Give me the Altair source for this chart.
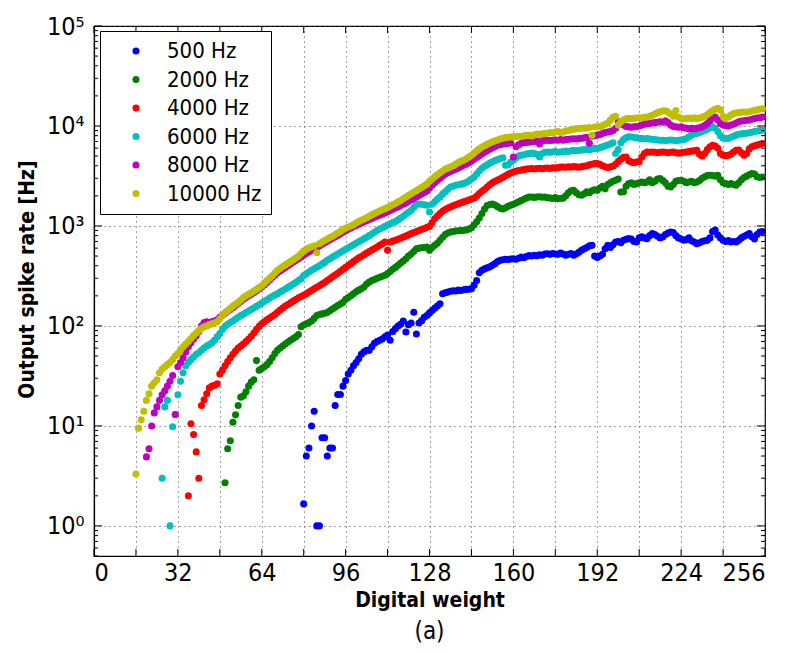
import altair as alt
import pandas as pd

SERIES = ["500 Hz", "2000 Hz", "4000 Hz", "6000 Hz", "8000 Hz", "10000 Hz"]
COLORS = ["#0000ff", "#008000", "#ff0000", "#00bfbf", "#bf00bf", "#bfbf00"]

# first digital weight of each series, then one rate per consecutive weight
START_500 = 80
RATE_500 = [
    1.66, 5, 6, 10, 14, 1, 1, 7.6, 7.6, 5,
    6, 6, 16, 20.6, 20.6, 25, 28.5, 33, 36, 40,
    43, 47, 52, 55, 57, 57, 62, 67, 70, 72,
    74, 78, 81, 72, 88, 94, 100, 104, 112, 87,
    103, 107, 137, 83, 107, 113, 122, 127, 135, 143,
    150, 158, 167, 210, 215, 218, 222, 225, 224, 228,
    226, 230, 232, 233, 236, 255, 285, 340, 360, 372,
    382, 390, 405, 420, 440, 453, 460, 465, 462, 468,
    470, 465, 475, 490, 480, 495, 505, 500, 510, 505,
    515, 510, 525, 528, 520, 530, 525, 520, 535, 525,
    510, 520, 530, 510, 525, 545, 570, 590, 610, 635,
    640, 500, 485, 500, 520, 590, 640, 610, 650, 690,
    700, 680, 720, 735, 747, 740, 700, 690, 760, 780,
    760, 747, 800, 838, 820, 790, 760, 776, 820, 850,
    870, 860, 800, 760, 740, 720, 730, 760, 710, 690,
    665, 680, 700, 710, 718, 760, 880, 910, 810, 760,
    720, 700, 715, 690, 700, 690, 720, 760, 790, 810,
    838, 780, 740, 820, 870, 880,
]

START_2000 = 50
RATE_2000 = [
    2.7, 5.9, 7.1, 10.9, 12.9, 16, 19.4, 20, 22, 25,
    27.4, 29, 45, 36, 37.5, 39, 41, 44, 48, 53,
    57, 60, 63, 66, 69, 72, 75, 78, 82, 98,
    102, 105, 108, 112, 119, 127, 130, 132, 134, 136,
    142, 148, 154, 160, 166, 172, 185, 192, 200, 210,
    220, 228, 235, 245, 262, 275, 285, 292, 300, 307,
    314, 322, 335, 350, 368, 385, 405, 425, 445, 470,
    500, 525, 555, 590, 600, 605, 610, 615, 570, 610,
    640, 670, 720, 770, 820, 850, 870, 880, 890, 895,
    900, 904, 910, 930, 960, 1020, 1100, 1200, 1330, 1480,
    1600, 1640, 1660, 1620, 1560, 1500, 1480, 1520, 1570, 1610,
    1650, 1700, 1750, 1800, 1850, 1900, 1950, 1950, 1930, 1950,
    1960, 1940, 1950, 1920, 1900, 1880, 1920, 1870, 1880, 1900,
    2000, 2150, 2250, 2270, 2150, 2050, 2030, 2100, 2200, 2150,
    2250, 2300, 2270, 2400, 2500, 2350, 2600, 2700, 2800, 2860,
    2950, 2180, 2200, 2500, 2650, 2700, 2600, 2650, 2700, 2750,
    2700, 2750, 2900, 2700, 2800, 2950, 2980, 2850, 2700, 2500,
    2450, 2600, 2800, 2850, 2860, 2800, 2700, 2750, 2800, 2700,
    2750, 2850, 3000, 3100, 3200, 3210, 3200, 3150, 3220, 2900,
    2700, 2650, 2600, 2650, 2600, 2550, 2700, 2900, 3050, 3150,
    3250, 3340, 3300, 3100, 3050, 3090,
]

START_4000 = 36
RATE_4000 = [
    2.0, 10.5, 8.2, 5.5, 3.0, 16, 18.3, 21, 24, 25,
    25.5, 26.4, 33, 36, 40, 44, 48, 52, 56, 60,
    63, 66, 70, 74, 79, 85, 92, 99, 105, 110,
    115, 120, 125, 130, 137, 144, 151, 158, 164, 170,
    177, 184, 191, 197, 203, 210, 218, 226, 235, 244,
    252, 262, 272, 284, 296, 310, 323, 337, 352, 368,
    385, 402, 420, 440, 460, 480, 495, 515, 535, 555,
    575, 595, 615, 640, 665, 690, 570, 690, 705, 720,
    735, 755, 775, 795, 815, 838, 860, 880, 900, 920,
    945, 970, 990, 1080, 1180, 1260, 1330, 1400, 1460, 1510,
    1550, 1590, 1630, 1670, 1710, 1740, 1780, 1820, 1860, 1890,
    1990, 2110, 2220, 2320, 2450, 2580, 2700, 2800, 2880, 2960,
    3060, 3180, 3280, 3380, 3460, 3530, 3580, 3620, 3660, 3700,
    3740, 3760, 3720, 3760, 3780, 3740, 3780, 3800, 3760, 3820,
    3800, 3850, 3880, 3890, 3860, 3900, 3880, 3920, 3900, 3870,
    3920, 3950, 4000, 4100, 4150, 4200, 4200, 4150, 4000, 3900,
    3850, 3900, 3950, 4150, 4400, 4650, 4850, 4900, 4500, 4350,
    4300, 4360, 4400, 4900, 5300, 5500, 5450, 5500, 5450, 5400,
    5450, 5500, 5450, 5400, 5450, 5500, 5400, 5350, 5400, 5450,
    5500, 5550, 5600, 5650, 5700, 5200, 5000, 5300, 5800, 6200,
    6400, 6300, 6000, 5300, 5100, 5050, 5100, 5200, 5500, 5700,
    5750, 5400, 5100, 5300, 5900, 6200, 6350, 6450, 6550, 6670,
]

START_6000 = 26
RATE_6000 = [
    3.0, 15.5, 18, 1.0, 9.8, 13, 20.5, 28, 34, 40,
    43, 46, 49, 52, 54, 57, 60, 63, 65, 68,
    72, 78, 84, 92, 99, 104, 108, 112, 117, 122,
    127, 131, 136, 141, 146, 151, 157, 163, 169, 176,
    183, 190, 197, 204, 210, 218, 226, 234, 243, 252,
    262, 272, 285, 296, 320, 333, 347, 360, 373, 387,
    400, 415, 432, 453, 470, 488, 505, 523, 542, 565,
    585, 605, 627, 650, 672, 695, 718, 745, 772, 800,
    830, 865, 900, 930, 960, 990, 1020, 1050, 1080, 1110,
    1150, 1200, 1250, 1310, 1370, 1430, 1530, 1640, 1660, 1650,
    1630, 1610, 1380, 1650, 1750, 1850, 1950, 2080, 2200, 2330,
    2450, 2500, 2550, 2580, 2620, 2650, 2720, 2820, 2950, 3090,
    3300, 3550, 3780, 3950, 4100, 4250, 4380, 4500, 4620, 4720,
    4800, 4040, 4100, 4350, 4540, 4800, 5000, 5100, 5150, 5250,
    5300, 5350, 5300, 5200, 4900, 5300, 5450, 5500, 5450, 5500,
    5550, 5450, 5500, 5550, 5600, 5550, 5650, 5700, 5650, 5700,
    5750, 5800, 5850, 5800, 5900, 5950, 5950, 6050, 6200, 6350,
    6450, 6600, 6800, 5300, 5800, 6800, 7300, 7600, 7800, 7750,
    7700, 7600, 7550, 7500, 7450, 7480, 7400, 7350, 7300, 7250,
    7200, 7200, 7150, 7200, 7250, 7200, 7150, 7200, 7250, 7300,
    7500, 7800, 8100, 8300, 8400, 8600, 8800, 9000, 9300, 9600,
    9800, 9500, 8800, 8000, 7600, 7480, 7500, 7700, 7900, 8100,
    8250, 8350, 8400, 8450, 8550, 8650, 8800, 8900, 9000, 9060,
]

START_8000 = 20
RATE_8000 = [
    4.9, 5.9, 10, 13.5, 15.5, 18, 20.5, 22.5, 25, 28,
    32, 13, 39, 43, 48, 55, 62, 68, 74, 80,
    88, 100, 108, 110, 108, 110, 112, 115, 122, 128,
    134, 140, 146, 152, 160, 168, 176, 185, 193, 200,
    208, 216, 225, 235, 245, 258, 272, 288, 305, 322,
    340, 355, 370, 385, 400, 418, 435, 452, 470, 490,
    510, 530, 550, 570, 590, 610, 630, 655, 680, 705,
    730, 755, 780, 805, 835, 865, 895, 925, 955, 985,
    1010, 1040, 1070, 1100, 1130, 1160, 1190, 1220, 1250, 1280,
    1310, 1350, 1390, 1430, 1470, 1510, 1550, 1600, 1650, 1700,
    1760, 1820, 1880, 1950, 2020, 2090, 2160, 2240, 2400, 2550,
    2700, 2850, 3000, 3150, 3300, 3400, 3500, 3600, 3700, 3800,
    3920, 4040, 4150, 4300, 4450, 4650, 4850, 5050, 5250, 5450,
    5650, 5850, 6050, 6250, 6400, 6500, 6600, 6650, 6700, 6750,
    4900, 6200, 6500, 6700, 6800, 6850, 6900, 6950, 7000, 7050,
    6600, 7100, 7150, 7200, 7150, 7200, 7250, 7200, 7300, 7200,
    7300, 7350, 7400, 7450, 7400, 7500, 7550, 7600, 7700, 6700,
    7900, 8000, 8100, 8200, 8400, 8600, 8700, 8800, 9000, 9500,
    11000, 10500, 10200, 9900, 9800, 9700, 9800, 9900, 10000, 10200,
    10400, 10500, 10600, 10700, 10800, 10900, 11000, 10900, 11300, 10800,
    10200, 9900, 9800, 9700, 9800, 9600, 9500, 9400, 9500, 9400,
    9500, 9600, 9800, 10100, 10600, 11300, 12000, 12300, 11500, 10600,
    10200, 10100, 10000, 10200, 10400, 10700, 11000, 11200, 11300, 11400,
    11500, 11700, 11900, 12000, 12100, 12300,
]

START_10000 = 16
RATE_10000 = [
    3.3, 9.5, 11.5, 14, 18, 21, 25, 27, 29, 34,
    37, 39, 41, 43, 46, 50, 53, 57, 62, 66,
    70, 75, 80, 85, 90, 95, 98, 100, 103, 105,
    107, 110, 118, 127, 136, 143, 150, 158, 165, 172,
    182, 192, 200, 207, 215, 224, 232, 242, 252, 268,
    285, 300, 318, 338, 360, 375, 392, 408, 425, 440,
    460, 478, 498, 530, 560, 585, 605, 620, 635, 540,
    665, 690, 715, 740, 765, 790, 820, 850, 880, 920,
    950, 975, 1000, 1030, 1070, 1110, 1140, 1175, 1210, 1250,
    1290, 1330, 1370, 1410, 1450, 1490, 1530, 1580, 1630, 1680,
    1740, 1800, 1870, 1950, 2030, 2100, 2170, 2250, 2340, 2430,
    2520, 2620, 2800, 2950, 3100, 3250, 3400, 3550, 3700, 3800,
    3900, 4000, 4150, 4300, 4450, 4550, 4700, 4900, 5100, 5350,
    5650, 5900, 6150, 6350, 6550, 6750, 6950, 7100, 7250, 7400,
    7550, 7650, 7700, 7750, 7780, 7800, 7900, 7850, 8000, 8050,
    8080, 7950, 8150, 8300, 8200, 8350, 8400, 8450, 8600, 8500,
    8700, 8800, 8600, 8700, 8900, 9000, 9150, 9300, 9400, 9450,
    9500, 9550, 9500, 9650, 8100, 9750, 9800, 9850, 10100, 10400,
    10700, 11500, 12200, 12500, 10200, 11000, 11500, 11800, 11900, 11800,
    11900, 12000, 12100, 12000, 12200, 12300, 12500, 12800, 13200, 13600,
    13900, 14100, 14200, 13800, 13200, 12500, 14300, 12300, 11900, 11800,
    11900, 12000, 11800, 12100, 11900, 12000, 12200, 12500, 13000, 13600,
    14200, 14700, 15000, 14400, 12500, 11800, 12300, 12900, 13300, 13500,
    13600, 13700, 13800, 13700, 13900, 14100, 14300, 14500, 14700, 14900,
]

STARTS = [START_500, START_2000, START_4000, START_6000, START_8000, START_10000]
RATES = [RATE_500, RATE_2000, RATE_4000, RATE_6000, RATE_8000, RATE_10000]

X_TICKS = [0, 16, 32, 48, 64, 80, 96, 112, 128, 144, 160, 176, 192, 208, 224, 240, 256]
Y_MAJOR = [1, 10, 100, 1000, 10000, 100000]
Y_MINOR = [m * d for d in [0.1, 1, 10, 100, 1000, 10000] for m in [2, 3, 4, 5, 6, 7, 8, 9] if m * d >= 0.5]

W, H = 671, 530
FONT = "DejaVu Sans Condensed, DejaVu Sans"
BOLD_FONT = "DejaVu Sans Condensed, DejaVu Sans"

rows = []
for name, start, vals in zip(SERIES, STARTS, RATES):
    for i, v in enumerate(vals):
        rows.append({"w": start + i, "rate": v, "series": name})
df = pd.DataFrame(rows)

xscale = alt.Scale(domain=[0, 256], nice=False, zero=False)
yscale = alt.Scale(type="log", domain=[0.5, 100000], nice=False)

sup = "['\u2070','\u00b9','\u00b2','\u00b3','\u2074','\u2075']"
ylabel_expr = "'10' + " + sup + "[round(log(datum.value) / LN10)]"

xaxis = alt.Axis(
    values=X_TICKS,
    labelExpr="datum.value % 32 == 0 ? datum.label : ''",
    title="Digital weight",
    grid=True, ticks=False,
    labelPadding=4, labelFontSize=25, labelFont=FONT,
    titleFont=BOLD_FONT, titleFontSize=21, titleFontWeight="bold",
    titleBaseline="middle", titleY=44, titleX=W / 2,
)
yaxis = alt.Axis(
    values=Y_MAJOR,
    labelExpr=ylabel_expr,
    title="Output spike rate [Hz]",
    grid=True, ticks=False,
    labelPadding=10, labelFontSize=25, labelFont=FONT,
    titleFont=BOLD_FONT, titleFontSize=21, titleFontWeight="bold",
    titleBaseline="middle", titleAlign="center", titleAngle=-90,
    titleX=-67, titleY=H / 2 - 12,
)

points = alt.Chart(df).mark_circle(size=50, opacity=1).encode(
    x=alt.X("w:Q", scale=xscale, axis=xaxis),
    y=alt.Y("rate:Q", scale=yscale, axis=yaxis),
    color=alt.Color(
        "series:N",
        scale=alt.Scale(domain=SERIES, range=COLORS),
        legend=alt.Legend(
            title=None, orient="none", legendX=6, legendY=5,
            strokeColor="black", fillColor="white", padding=9,
            labelFont=FONT, labelFontSize=22, labelLimit=300,
            symbolType="circle", symbolSize=50, symbolStrokeWidth=0,
            rowPadding=6.5, symbolOffset=16, labelOffset=20,
        ),
    ),
)

xt = pd.DataFrame({"w": X_TICKS})
ymaj = pd.DataFrame({"rate": Y_MAJOR})
ymin = pd.DataFrame({"rate": Y_MINOR})

def xrule(y1, y2):
    return alt.Chart(xt).mark_rule(color="black", strokeWidth=1).encode(
        x=alt.X("w:Q", scale=xscale, axis=xaxis),
        y=alt.value(y1), y2=alt.value(y2),
    )

def yrule(data, x1, x2):
    return alt.Chart(data).mark_rule(color="black", strokeWidth=1).encode(
        y=alt.Y("rate:Q", scale=yscale, axis=yaxis),
        x=alt.value(x1), x2=alt.value(x2),
    )

chart = alt.layer(
    points,
    xrule(H, H - 7), xrule(0, 7),
    yrule(ymaj, 0, 8), yrule(ymin, 0, 4),
    yrule(ymaj, W - 8, W), yrule(ymin, W - 4, W),
).properties(
    width=W, height=H,
    autosize=alt.AutoSizeParams(type="none"),
    padding={"left": 94, "top": 26, "right": 26, "bottom": 96},
    title=alt.TitleParams(
        text="(a)", orient="bottom", anchor="middle", fontSize=24,
        fontWeight="normal", font=FONT, color="black", offset=10,
    ),
).configure_view(
    stroke="black", strokeWidth=1.2
).configure_axis(
    domainColor="black", domainWidth=1.2,
    gridColor="#444444", gridDash=[1, 4], gridWidth=1, gridOpacity=1,
    labelColor="black", titleColor="black",
)

chart.save("out.html", embed_options={"renderer": "svg", "actions": False})
